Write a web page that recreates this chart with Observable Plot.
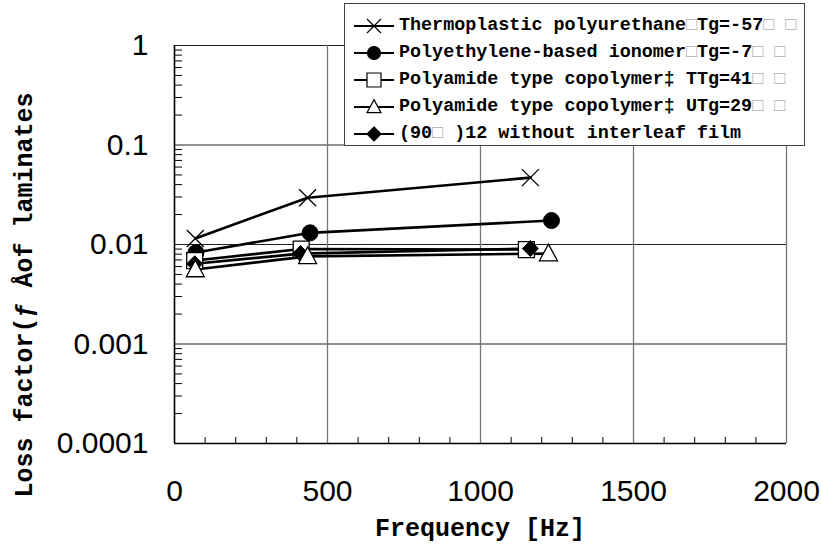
<!DOCTYPE html>
<html><head><meta charset="utf-8">
<script src="https://cdn.jsdelivr.net/npm/d3@7"></script>
<script src="https://cdn.jsdelivr.net/npm/@observablehq/plot@0.6"></script>
<style>
body{margin:0;background:#fff;}
#wrap{position:relative;width:821px;height:546px;}
#legend{position:absolute;left:344px;top:3px;width:461px;height:143px;border:1.5px solid #444;background:#fff;font-family:"Liberation Mono",monospace;font-weight:bold;font-size:18.4px;color:#000;padding-top:8px;box-sizing:border-box;}
.row{display:flex;align-items:center;height:27px;white-space:nowrap;}
.row svg{margin-left:8px;margin-right:4px;flex:none;}
.tofu{color:#b0b0b0;font-weight:normal;}
</style></head><body><div id="wrap"></div>
<script>
// ---- data ----
const seriesNames = [
  "Thermoplastic polyurethane□Tg=-57□ □",
  "Polyethylene-based ionomer□Tg=-7□ □",
  "Polyamide type copolymer‡ TTg=41□ □",
  "Polyamide type copolymer‡ UTg=29□ □",
  "(90□ )12 without interleaf film"
];
const tpuFreq = [68, 435, 1163];
const tpuLoss = [0.0115, 0.0295, 0.047];
const ionomerFreq = [70, 443, 1232];
const ionomerLoss = [0.0083, 0.0131, 0.0174];
const pa1Freq = [66, 414, 1150];
const pa1Loss = [0.0069, 0.0090, 0.0089];
const pa2Freq = [68, 435, 1222];
const pa2Loss = [0.0056, 0.0076, 0.0081];
const baseFreq = [66, 412, 1163];
const baseLoss = [0.0064, 0.0081, 0.0091];

const xTickValues = [0, 500, 1000, 1500, 2000];
const xTickLabels = ["0", "500", "1000", "1500", "2000"];
const yTickValues = [0.0001, 0.001, 0.01, 0.1, 1];
const yTickLabels = ["0.0001", "0.001", "0.01", "0.1", "1"];
const xTitle = "Frequency [Hz]";
const yTitle = "Loss factor(ƒ Åof laminates";

// ---- symbols ----
const hw = size => Math.sqrt(size / Math.PI);
const symTimes = {draw(c, s){const h=hw(s); c.moveTo(-h,-h); c.lineTo(h,h); c.moveTo(-h,h); c.lineTo(h,-h);}};
const symCircle = {draw(c, s){const h=hw(s); c.moveTo(h,0); c.arc(0,0,h,0,2*Math.PI);}};
const symSquare = {draw(c, s){const h=hw(s); c.rect(-h,-h,2*h,2*h);}};
const symTriangle = {draw(c, s){const h=hw(s); c.moveTo(0,-h*1.05); c.lineTo(h,h*0.8); c.lineTo(-h,h*0.8); c.closePath();}};
const symDiamond = {draw(c, s){const h=hw(s); c.moveTo(0,-h); c.lineTo(h,0); c.lineTo(0,h); c.lineTo(-h,0); c.closePath();}};

const seriesFreq = [tpuFreq, ionomerFreq, pa1Freq, pa2Freq, baseFreq];
const seriesLoss = [tpuLoss, ionomerLoss, pa1Loss, pa2Loss, baseLoss];
const styles = [
  {symbol: symTimes, fill: "none", stroke: "#000", r: 8.5, sw: 1.3},
  {symbol: symCircle, fill: "#000", stroke: "#000", r: 8, sw: 1},
  {symbol: symSquare, fill: "#fff", stroke: "#000", r: 8, sw: 1.3},
  {symbol: symTriangle, fill: "#fff", stroke: "#000", r: 9, sw: 1.3},
  {symbol: symDiamond, fill: "#000", stroke: "#000", r: 8, sw: 1}
];
const table = seriesNames.flatMap((name, i) =>
  seriesFreq[i].map((f, j) => ({series: name, idx: i, f, loss: seriesLoss[i][j]})));

const minorY = [];
for (let e = -4; e < 0; e++) for (let m = 2; m <= 9; m++) minorY.push(m * Math.pow(10, e));
const minorX = d3.range(100, 2000, 100).filter(v => v % 500 !== 0);

const W = 821, H = 546, mL = 174, mR = 35, mT = 45, mB = 103;
const frameW = W - mL - mR, frameH = H - mT - mB;

const marks = [
  Plot.ruleY(yTickValues.slice(1), {y: d => d, stroke: "#222", strokeWidth: 1}),
  Plot.ruleX(xTickValues.slice(1), {x: d => d, stroke: "#777", strokeWidth: 1.3}),
  Plot.tickY(minorY, {y: d => d, stroke: "#000", strokeWidth: 1, insetRight: frameW - 8}),
  Plot.tickX(minorX, {x: d => d, stroke: "#000", strokeWidth: 1, insetTop: frameH - 6}),
  Plot.ruleX([xTickValues[0]], {x: d => d, stroke: "#000", strokeWidth: 1.6}),
  Plot.ruleY([yTickValues[0]], {y: d => d, stroke: "#000", strokeWidth: 1.6}),
  Plot.line(table, {x: "f", y: "loss", z: "series", stroke: "#000", strokeWidth: 2.6})
];
[0, 1, 2, 4, 3].forEach(i => {
  const st = styles[i];
  marks.push(Plot.dot(table.filter(d => d.idx === i), {x: "f", y: "loss", symbol: st.symbol, r: st.r, fill: st.fill, stroke: st.stroke, strokeWidth: st.sw}));
});
marks.push(
  Plot.axisX({ticks: xTickValues, tickFormat: d => xTickLabels[xTickValues.indexOf(d)], tickSize: 0, tickPadding: 36,
    fontSize: 30, fontFamily: "Liberation Sans, Arial, sans-serif", label: null}),
  Plot.axisY({ticks: yTickValues, tickFormat: d => yTickLabels[yTickValues.indexOf(d)], tickSize: 0, tickPadding: 26,
    fontSize: 30, fontFamily: "Liberation Sans, Arial, sans-serif", label: null})
);

const chart = Plot.plot({
  width: W, height: H, marginLeft: mL, marginRight: mR, marginTop: mT, marginBottom: mB,
  style: {background: "#fff", color: "#000", overflow: "visible"},
  x: {domain: [0, 2000]},
  y: {type: "log", domain: [0.0001, 1]},
  marks
});
// axis titles
const svgSel = d3.select(chart);
svgSel.append("text")
  .attr("transform", `translate(23,${mT + frameH / 2 + 51}) rotate(-90)`)
  .attr("text-anchor", "middle").attr("dy", "0.35em")
  .attr("font-family", "Liberation Mono, monospace").attr("font-weight", "bold").attr("font-size", 25)
  .attr("fill", "#000").text(yTitle);
svgSel.append("text")
  .attr("transform", `translate(${mL + frameW / 2},${H - mB + 84})`)
  .attr("text-anchor", "middle").attr("dy", "0.35em")
  .attr("font-family", "Liberation Mono, monospace").attr("font-weight", "bold").attr("font-size", 25)
  .attr("fill", "#000").text(xTitle);

const wrap = document.getElementById("wrap");
wrap.appendChild(chart);

// ---- legend ----
const legend = document.createElement("div");
legend.id = "legend";
seriesNames.forEach((name, i) => {
  const row = document.createElement("div");
  row.className = "row";
  const st = styles[i];
  const svg = d3.create("svg").attr("width", 42).attr("height", 22);
  svg.append("line").attr("x1", 1).attr("x2", 41).attr("y1", 11).attr("y2", 11).attr("stroke", "#000").attr("stroke-width", 2.2);
  const r = i === 1 ? 6.5 : 7;
  svg.append("path").attr("transform", "translate(21,11)")
    .attr("d", d3.symbol(st.symbol, Math.PI * r * r)())
    .attr("fill", st.fill).attr("stroke", st.stroke).attr("stroke-width", 1.2);
  row.appendChild(svg.node());
  const span = document.createElement("span");
  span.innerHTML = name.replace(/□/g, '<span class="tofu">□</span>');
  row.appendChild(span);
  legend.appendChild(row);
});
wrap.appendChild(legend);
</script></body></html>
